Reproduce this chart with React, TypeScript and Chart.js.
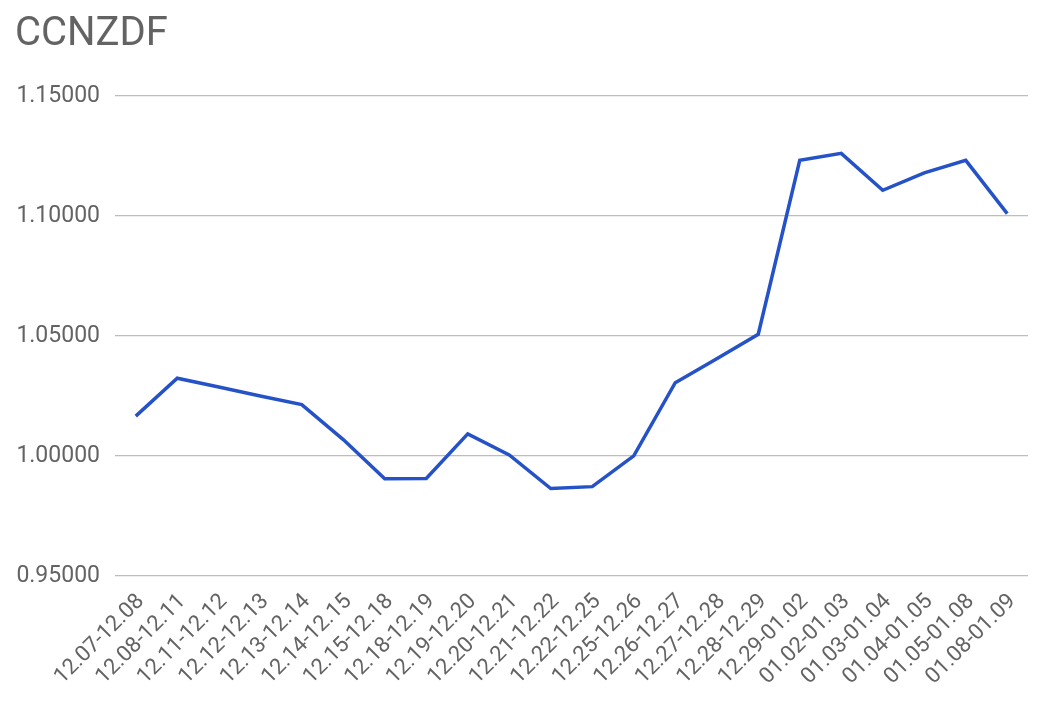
import React, { useEffect, useRef } from "react";
import { Chart, registerables } from "chart.js";

Chart.register(...registerables);

const categories: string[] = [
  "12.07-12.08", "12.08-12.11", "12.11-12.12", "12.12-12.13", "12.13-12.14",
  "12.14-12.15", "12.15-12.18", "12.18-12.19", "12.19-12.20", "12.20-12.21",
  "12.21-12.22", "12.22-12.25", "12.25-12.26", "12.26-12.27", "12.27-12.28",
  "12.28-12.29", "12.29-01.02", "01.02-01.03", "01.03-01.04", "01.04-01.05",
  "01.05-01.08", "01.08-01.09",
];

const values: number[] = [
  1.0166, 1.0324, 1.0287, 1.0250, 1.0214,
  1.0068, 0.9905, 0.9906, 1.0092, 1.0004,
  0.9864, 0.9872, 1.0000, 1.0305, 1.0405,
  1.0507, 1.1232, 1.1261, 1.1107, 1.1180,
  1.1232, 1.1010,
];

const titleText = "CCNZDF";
const yMin = 0.95;
const yMax = 1.15;
const yStep = 0.05;

export default function App() {
  const ref = useRef<HTMLCanvasElement | null>(null);

  useEffect(() => {
    if (!ref.current) return;
    const chart = new Chart(ref.current, {
      type: "line",
      data: {
        labels: categories,
        datasets: [
          {
            label: titleText,
            data: values,
            borderColor: "#2552c6",
            borderWidth: 3.5,
            pointRadius: 0,
            tension: 0,
            fill: false,
          },
        ],
      },
      options: {
        responsive: false,
        animation: false,
        layout: { padding: { left: 15, right: 20, top: 11, bottom: 5 } },
        plugins: {
          legend: { display: false },
          tooltip: { enabled: false },
          title: {
            display: true,
            text: titleText,
            align: "start",
            color: "#636363",
            font: { family: "Roboto", size: 40, weight: "normal" },
            padding: { top: 0, bottom: 37 },
          },
        },
        scales: {
          x: {
            offset: true,
            grid: { display: false, drawTicks: false },
            border: { display: false },
            ticks: {
              autoSkip: false,
              minRotation: 45,
              maxRotation: 45,
              padding: 13,
              labelOffset: 5,
              color: "#636363",
              font: { family: "Roboto", size: 22 },
            },
          },
          y: {
            min: yMin,
            max: yMax,
            grid: { color: "#bdbdbd", lineWidth: 1.3, drawTicks: false },
            border: { display: false },
            afterFit: (scale: any) => {
              scale.width = 100;
            },
            ticks: {
              stepSize: yStep,
              padding: 15,
              color: "#636363",
              font: { family: "Roboto", size: 23 },
              callback: (v: any) => Number(v).toFixed(5),
            },
          },
        },
      },
    });
    return () => chart.destroy();
  }, []);

  return (
    <div style={{ position: "fixed", left: 0, top: 0, width: 1048, height: 708, background: "#fff" }}>
      <canvas ref={ref} width={1048} height={708} />
    </div>
  );
}
